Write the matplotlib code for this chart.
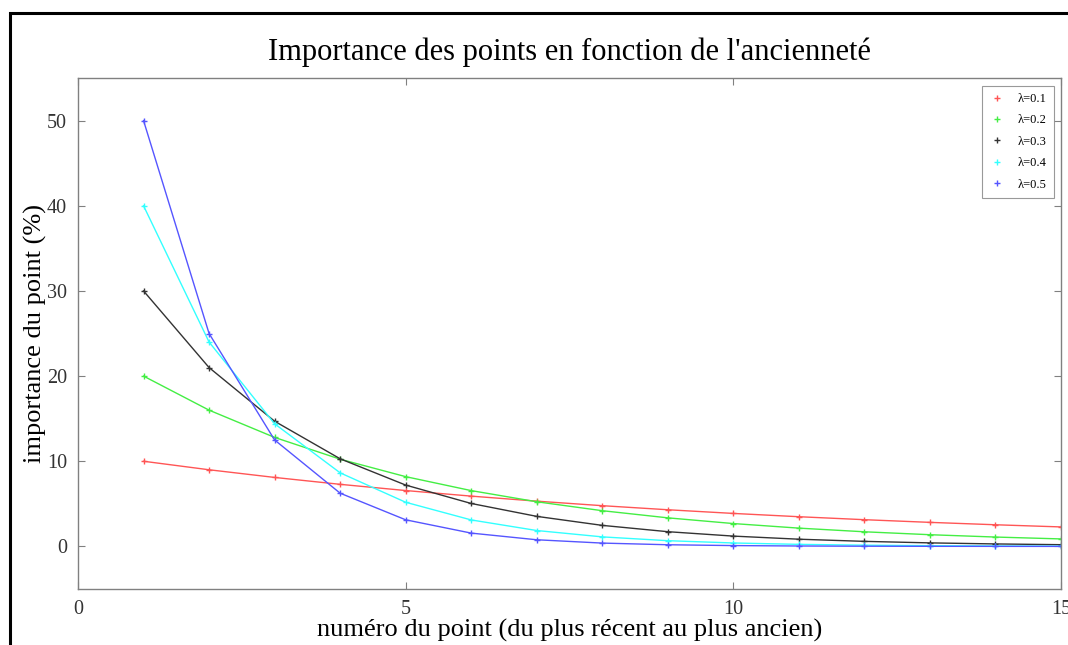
import matplotlib
matplotlib.use("Agg")
import matplotlib.pyplot as plt
from matplotlib.patches import Rectangle

# Weight (in %) given to each point, from the most recent (1) to the oldest (15)
points = [1, 2, 3, 4, 5, 6, 7, 8, 9, 10, 11, 12, 13, 14, 15]
labels = ["λ=0.1", "λ=0.2", "λ=0.3", "λ=0.4", "λ=0.5"]
w_01 = [10.0, 9.0, 8.1, 7.29, 6.561, 5.905, 5.314, 4.783, 4.305, 3.874,
        3.487, 3.138, 2.824, 2.542, 2.288]
w_02 = [20.0, 16.0, 12.8, 10.24, 8.192, 6.554, 5.243, 4.194, 3.355, 2.684,
        2.147, 1.718, 1.374, 1.100, 0.880]
w_03 = [30.0, 21.0, 14.7, 10.29, 7.203, 5.042, 3.529, 2.471, 1.729, 1.211,
        0.847, 0.593, 0.415, 0.291, 0.203]
w_04 = [40.0, 24.0, 14.4, 8.64, 5.184, 3.110, 1.866, 1.120, 0.672, 0.403,
        0.242, 0.145, 0.087, 0.052, 0.031]
w_05 = [50.0, 25.0, 12.5, 6.25, 3.125, 1.563, 0.781, 0.391, 0.195, 0.098,
        0.049, 0.024, 0.012, 0.006, 0.003]
series = [w_01, w_02, w_03, w_04, w_05]
colors = ["#ff5555", "#44ee44", "#333333", "#33ffff", "#5555ff"]

plt.rcParams["font.family"] = ["Liberation Serif", "DejaVu Serif"]

fig = plt.figure(figsize=(10.68, 6.45), dpi=100)
fig.patch.set_facecolor("white")

# Outer black frame of the figure
fig.patches.append(Rectangle((9.5 / 1068, -0.1), 1.2, 1.1 - 13 / 645,
                             transform=fig.transFigure, fill=False,
                             edgecolor="black", linewidth=2.2, zorder=10))

ax = fig.add_axes([78 / 1068, 1 - 589 / 645, (1061 - 78) / 1068, (589 - 78) / 645])

for vals, col, lab in zip(series, colors, labels):
    ax.plot(points, vals, color=col, linewidth=1.0, marker="+",
            markersize=5, markeredgewidth=1.0, label=lab)

ax.set_xlim(0, 15)
ax.set_ylim(-5, 55)
ax.set_xticks([0, 5, 10, 15])
ax.set_yticks([0, 10, 20, 30, 40, 50])

for sp in ax.spines.values():
    sp.set_color("#808080")
    sp.set_linewidth(1.0)
ax.tick_params(direction="in", length=5, width=0.8, color="#808080",
               top=True, right=True, labelsize=14.5, labelcolor="#333333", pad=8)

ax.set_title("Importance des points en fonction de l'ancienneté",
             fontsize=22, pad=13)
ax.set_xlabel("numéro du point (du plus récent au plus ancien)", fontsize=19,
              labelpad=0)
ax.set_ylabel("importance du point (%)", fontsize=19, labelpad=0)

leg = ax.legend(loc="upper right", fontsize=9, handlelength=1.2,
                frameon=True, fancybox=False, borderpad=0.6, labelspacing=0.75,
                handletextpad=1.0, borderaxespad=0.6)
for h in leg.legend_handles:
    h.set_linestyle("none")
leg.get_frame().set_edgecolor("#808080")
leg.get_frame().set_linewidth(0.8)

fig.savefig("out.png", dpi=100, facecolor="white")
